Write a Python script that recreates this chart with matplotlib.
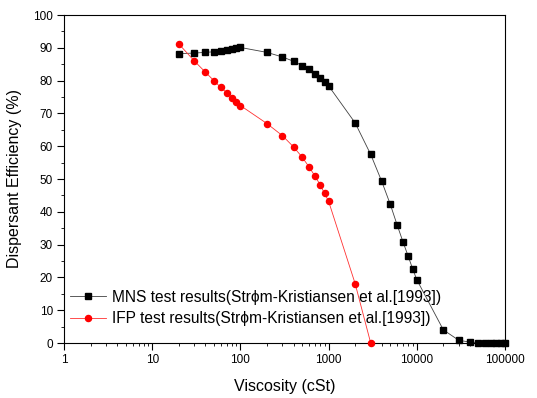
import numpy as np
import matplotlib
matplotlib.use('Agg')
import matplotlib.pyplot as plt
from matplotlib.ticker import LogLocator, MultipleLocator, NullFormatter

plt.rcParams['font.family'] = ['Liberation Sans', 'DejaVu Sans']

mns_x = [20, 30, 40, 50, 60, 70, 80, 90, 100, 200, 300, 400, 500, 600, 700, 800, 900, 1000,
         2000, 3000, 4000, 5000, 6000, 7000, 8000, 9000, 10000, 20000, 30000, 40000, 50000,
         60000, 70000, 80000, 90000, 100000]
mns_y = [88.2, 88.4, 88.6, 88.8, 89.0, 89.2, 89.5, 89.8, 90.1, 88.6, 87.2, 85.9, 84.6, 83.4,
         82.0, 80.8, 79.6, 78.4, 67.1, 57.5, 49.3, 42.3, 35.9, 30.7, 26.4, 22.5, 19.3, 4.0,
         0.8, 0.3, 0.1, 0.0, 0.0, 0.0, 0.0, 0.0]
ifp_x = [20, 30, 40, 50, 60, 70, 80, 90, 100, 200, 300, 400, 500, 600, 700, 800, 900, 1000,
         2000, 3000]
ifp_y = [91.2, 86.0, 82.6, 80.0, 77.9, 76.3, 74.8, 73.6, 72.4, 66.9, 63.2, 59.8, 56.7, 53.7,
         50.9, 48.3, 45.6, 43.2, 18.1, 0.0]
mns_label = 'MNS test results(Str\u03d5m-Kristiansen et al.[1993])'
ifp_label = 'IFP test results(Str\u03d5m-Kristiansen et al.[1993])'

fig = plt.figure(figsize=(5.37, 3.98), dpi=100)
ax = fig.add_axes([64/537, 1-343/398, (505-64)/537, (343-15)/398])

ax.plot(mns_x, mns_y, color='#404040', lw=0.6, marker='s', ms=3.9, mec='black', mfc='black',
        label=mns_label, clip_on=False, zorder=3)
ax.plot(ifp_x, ifp_y, color='#ff3030', lw=0.6, marker='o', ms=4.4, mec='red', mfc='red',
        label=ifp_label, clip_on=False, zorder=3)

ax.set_xscale('log')
ax.set_xlim(1, 100000)
ax.set_ylim(0, 100)
ax.xaxis.set_minor_locator(LogLocator(base=10, subs=np.arange(2, 10), numticks=20))
ax.xaxis.set_minor_formatter(NullFormatter())
ax.set_xticks([1, 10, 100, 1000, 10000, 100000])
ax.set_xticklabels(['1', '10', '100', '1000', '10000', '100000'])
ax.yaxis.set_major_locator(MultipleLocator(10))
ax.yaxis.set_minor_locator(MultipleLocator(5))
ax.tick_params(which='major', direction='out', length=5, width=0.8, labelsize=8.5,
               top=False, right=False, pad=3)
ax.tick_params(which='minor', direction='out', length=2.5, width=0.6, top=False, right=False)
for s in ax.spines.values():
    s.set_linewidth(0.8)

ax.set_xlabel('Viscosity (cSt)', fontsize=11.5, labelpad=9)
ax.set_ylabel('Dispersant Efficiency (%)', fontsize=11.5, labelpad=8)

ax.legend(loc='center left', bbox_to_anchor=(6/441, 35/328), frameon=False, fontsize=11.2,
          handlelength=2.3, handletextpad=0.4, labelspacing=0.4, borderpad=0, borderaxespad=0)

fig.savefig('out.png', dpi=100)
